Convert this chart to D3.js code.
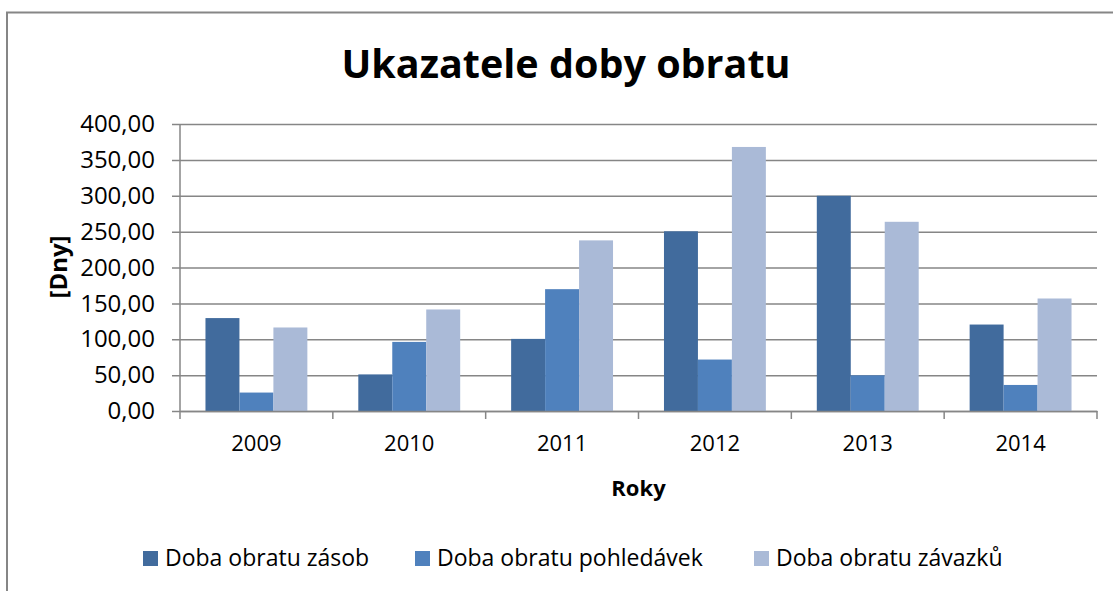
<!DOCTYPE html>
<html>
<head>
<meta charset="utf-8">
<script src="https://cdn.jsdelivr.net/npm/d3@7"></script>
<style>
  body { margin: 0; background: #fff; }
  svg { display: block; font-family: "Open Sans", sans-serif; }
</style>
</head>
<body>
<div id="chart"></div>
<script>
// Data
const years = ["2009", "2010", "2011", "2012", "2013", "2014"];
const seriesNames = ["Doba obratu zásob", "Doba obratu pohledávek", "Doba obratu závazků"];
const zasob = [129.5, 51, 100.5, 250.5, 300, 120.5];
const pohledavek = [25.7, 96.3, 169.8, 71.7, 49.8, 36.3];
const zavazku = [116.4, 141.5, 237.8, 368, 263.7, 156.8];
const yTicks = [0, 50, 100, 150, 200, 250, 300, 350, 400];
const colors = ["#416B9D", "#4F81BD", "#AABAD7"];

const width = 1113;
const height = 591;
const margin = { top: 124, right: 16, bottom: 180, left: 180 };
const plotW = width - margin.left - margin.right;
const plotH = height - margin.top - margin.bottom;

const cz = d3.formatLocale({ decimal: ",", thousands: " ", grouping: [3], currency: ["", " Kč"] });
const fmt = cz.format(".2f");

const rows = years.map((y, i) => ({ year: y, values: [zasob[i], pohledavek[i], zavazku[i]] }));

const svg = d3.select("#chart").append("svg")
  .attr("width", width)
  .attr("height", height);

// chart frame (only top and left edges are visible in the picture)
svg.append("path")
  .attr("d", `M7,${height} V12.5 H${width}`)
  .attr("fill", "none")
  .attr("stroke", "#868686")
  .attr("stroke-width", 2);

// title
svg.append("text")
  .attr("x", 566)
  .attr("y", 78)
  .attr("text-anchor", "middle")
  .attr("font-size", 39.5)
  .attr("font-weight", 700)
  .text("Ukazatele doby obratu");

const g = svg.append("g").attr("transform", `translate(${margin.left},${margin.top})`);

const x0 = d3.scaleBand().domain(years).range([0, plotW]).padding(0);
const x1 = d3.scaleBand().domain(d3.range(3)).range([0, x0.bandwidth()]).paddingInner(0).paddingOuter(0.75);
const y = d3.scaleLinear().domain([0, 400]).range([plotH, 0]);

// gridlines + y labels
const yAxis = g.append("g")
  .call(d3.axisLeft(y).tickValues(yTicks).tickFormat(fmt).tickSize(-plotW).tickPadding(25));
yAxis.select(".domain").remove();
yAxis.selectAll(".tick line")
  .attr("x1", -8)
  .attr("x2", plotW)
  .attr("stroke", "#868686")
  .attr("stroke-width", 1.5);
yAxis.selectAll(".tick text")
  .attr("font-size", 24)
  .attr("fill", "#000")
  .attr("font-family", "Open Sans, sans-serif");

// y axis line
g.append("line")
  .attr("x1", 0).attr("x2", 0)
  .attr("y1", 0).attr("y2", plotH)
  .attr("stroke", "#868686")
  .attr("stroke-width", 1.5);

// bars
g.append("g")
  .selectAll("g")
  .data(rows)
  .join("g")
  .attr("transform", d => `translate(${x0(d.year)},0)`)
  .selectAll("rect")
  .data(d => d.values.map((v, i) => ({ v, i })))
  .join("rect")
  .attr("x", d => x1(d.i))
  .attr("width", x1.bandwidth())
  .attr("y", d => y(d.v))
  .attr("height", d => plotH - y(d.v))
  .attr("fill", d => colors[d.i]);

// x axis
const xAxis = g.append("g")
  .attr("transform", `translate(0,${plotH})`)
  .call(d3.axisBottom(x0).tickSize(0).tickPadding(24));
xAxis.select(".domain")
  .attr("stroke", "#868686")
  .attr("stroke-width", 1.5);
xAxis.selectAll(".tick text")
  .attr("font-size", 22)
  .attr("fill", "#000")
  .attr("font-family", "Open Sans, sans-serif");
// category boundary ticks
g.append("g")
  .selectAll("line")
  .data(d3.range(years.length + 1))
  .join("line")
  .attr("x1", i => i * x0.step())
  .attr("x2", i => i * x0.step())
  .attr("y1", plotH)
  .attr("y2", plotH + 8)
  .attr("stroke", "#868686")
  .attr("stroke-width", 1.5);

// axis titles
svg.append("text")
  .attr("x", margin.left + plotW / 2)
  .attr("y", 496)
  .attr("text-anchor", "middle")
  .attr("font-size", 22)
  .attr("font-weight", 700)
  .text("Roky");

svg.append("text")
  .attr("transform", "translate(67,267) rotate(-90)")
  .attr("text-anchor", "middle")
  .attr("font-size", 24)
  .attr("font-weight", 700)
  .text("[Dny]");

// legend
const legendX = [143, 415, 754];
const legend = svg.append("g")
  .selectAll("g")
  .data(seriesNames)
  .join("g")
  .attr("transform", (d, i) => `translate(${legendX[i]},551)`);
legend.append("rect")
  .attr("width", 15)
  .attr("height", 15)
  .attr("fill", (d, i) => colors[i]);
legend.append("text")
  .attr("x", 22)
  .attr("y", 15)
  .attr("font-size", 23)
  .text(d => d);
</script>
</body>
</html>
